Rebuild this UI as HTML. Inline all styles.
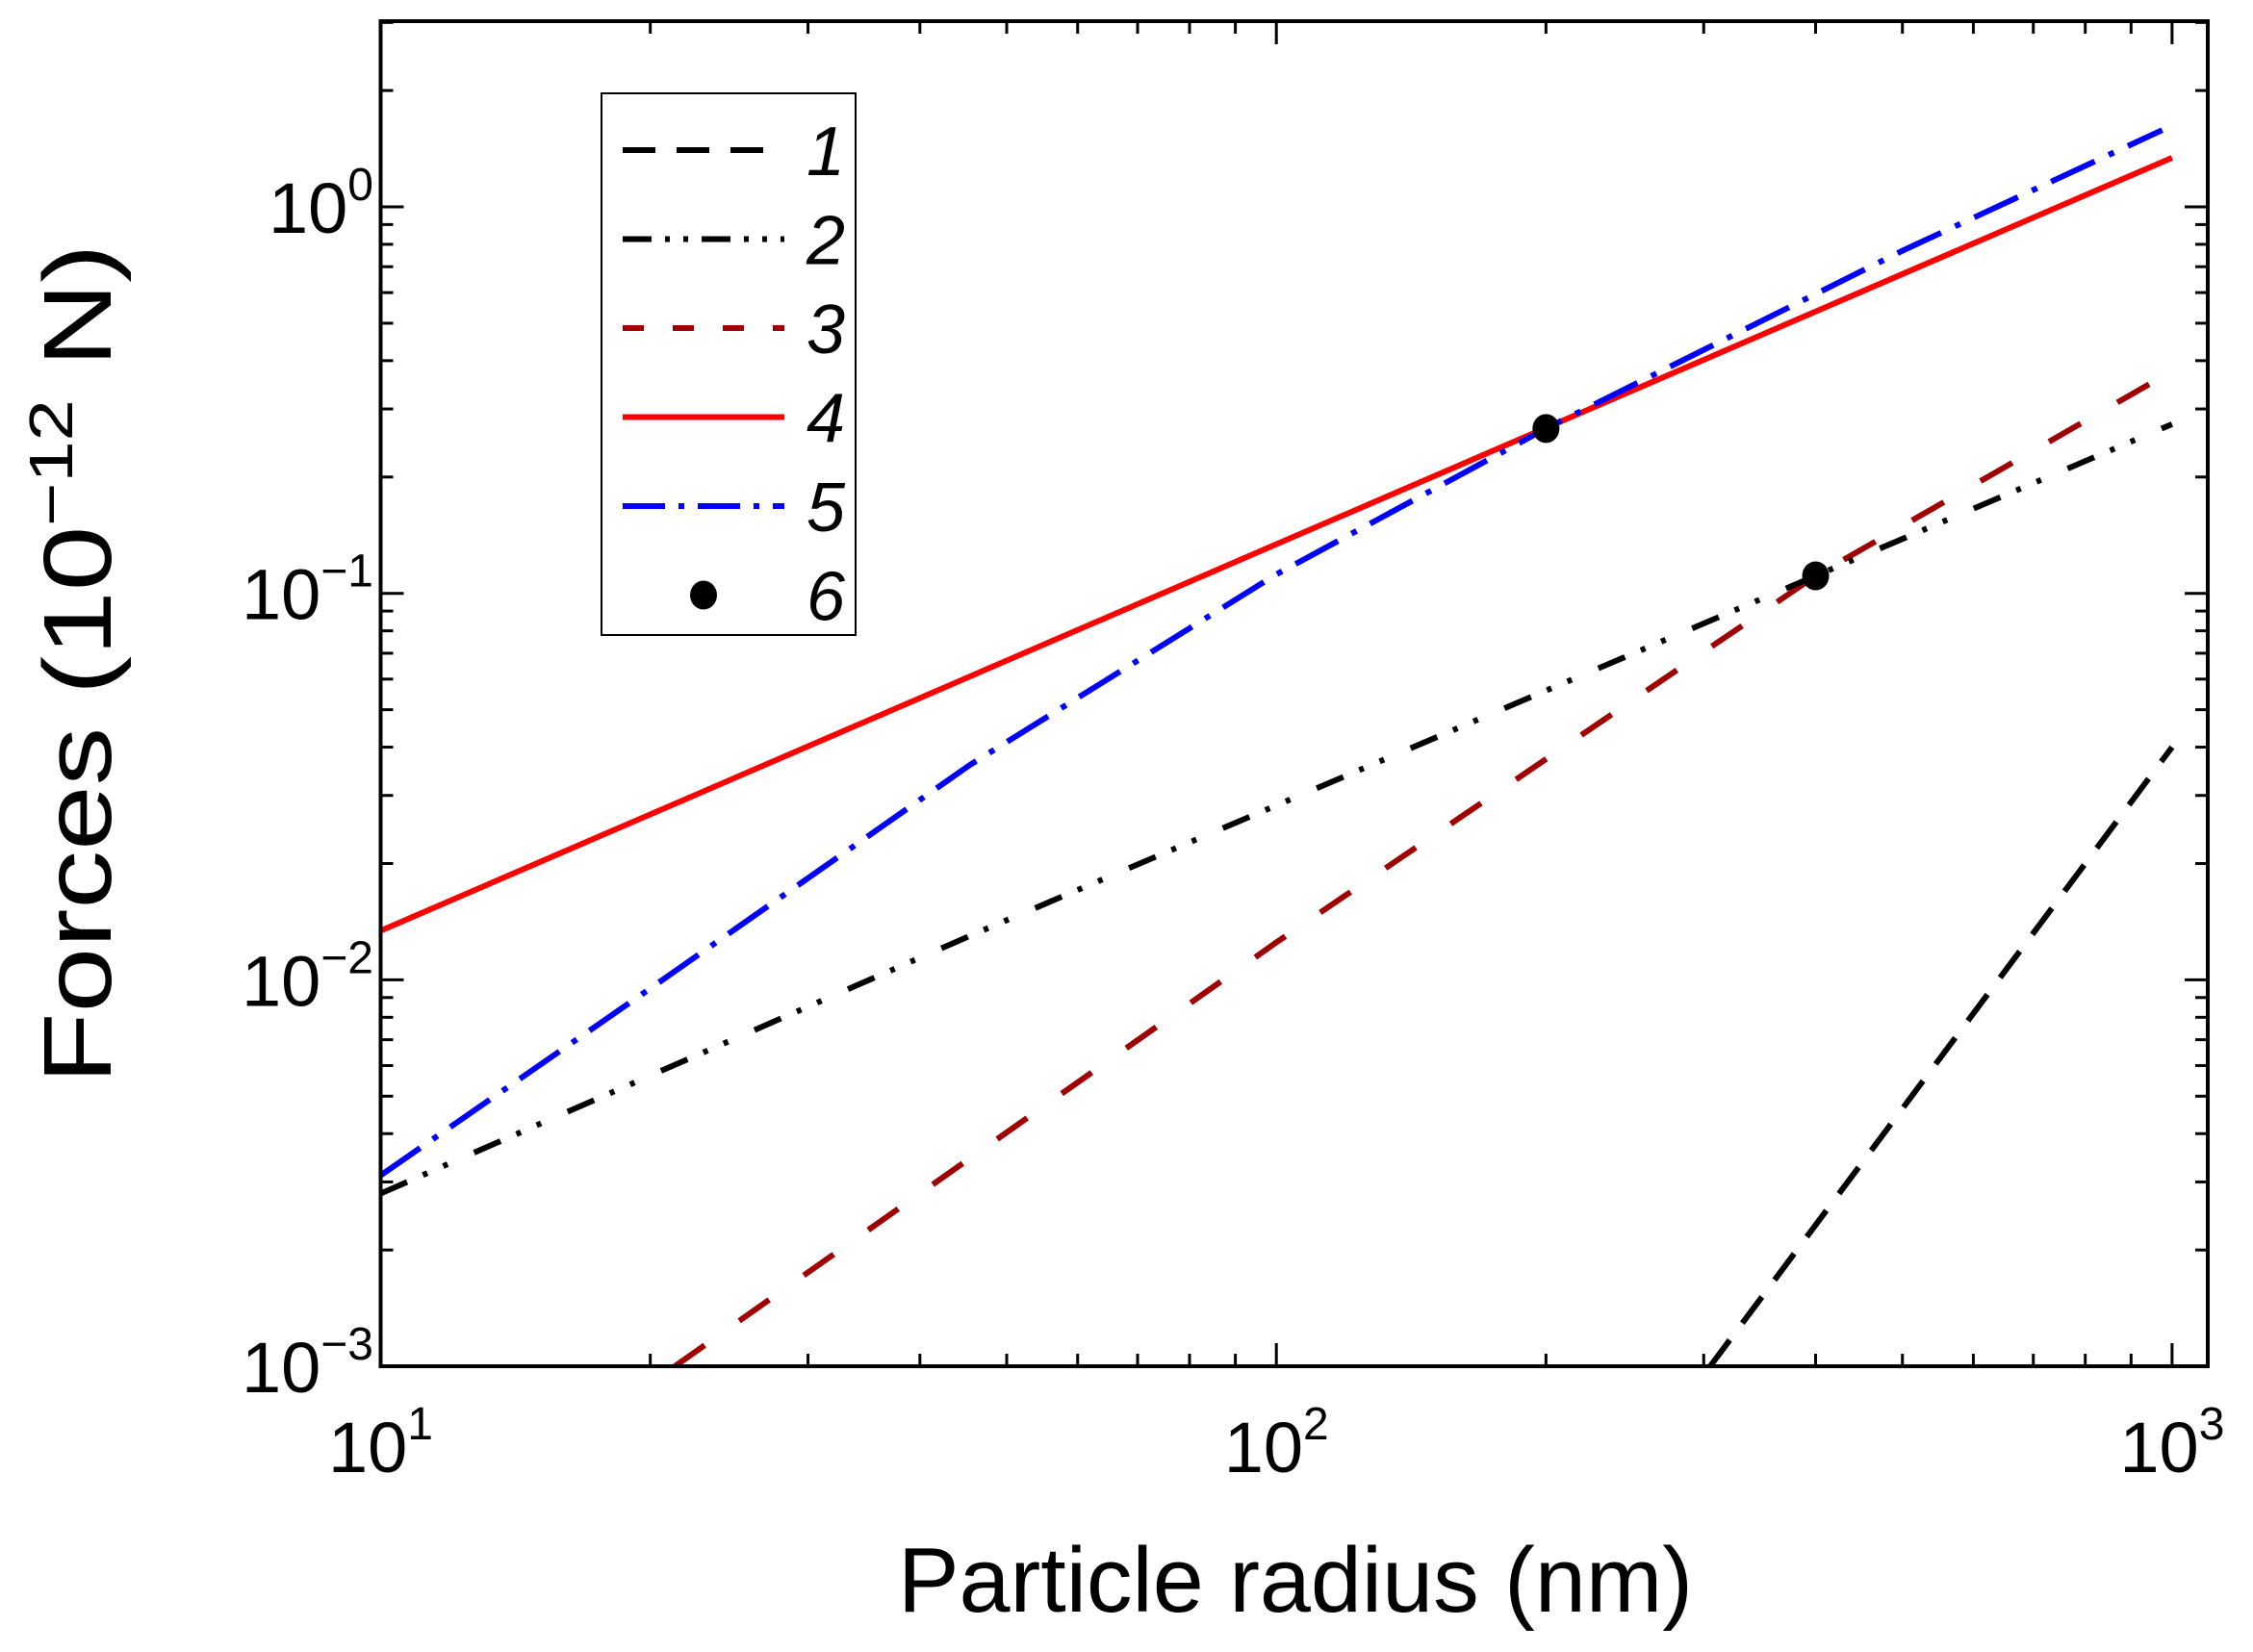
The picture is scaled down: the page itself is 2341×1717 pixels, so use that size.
<!DOCTYPE html>
<html><head><meta charset="utf-8"><style>
html,body{margin:0;padding:0;background:#fff}
svg{display:block}
text{font-family:"Liberation Sans",sans-serif}
</style></head><body>
<svg id="chart" width="2341" height="1717" viewBox="0 0 2341 1717" xmlns="http://www.w3.org/2000/svg">
<g id="plot"></g>
</svg>
<script>
// data arrays
const xTickExps = [1, 2, 3];
const yTickExps = [-3, -2, -1, 0];
const s1R = [305, 1000];
const s1F = [0.001, 0.040];
const s2R = [10, 45.5, 400, 1000];
const s2F = [0.0028, 0.013, 0.111, 0.274];
const s3R = [21.3, 100, 400, 1000];
const s3F = [0.001, 0.0125, 0.111, 0.376];
const s4R = [10, 1000];
const s4F = [0.0134, 1.34];
const s5R = [10, 20, 45.5, 100, 200, 500, 975];
const s5F = [0.00312, 0.0095, 0.036, 0.112, 0.267, 0.77, 1.58];
const dotR = [200, 400];
const dotF = [0.267, 0.111];
const legendLabels = ['1','2','3','4','5','6'];

const NS = 'http://www.w3.org/2000/svg';
const L = 395.5, R = 2294, T = 22, B = 1420;
function xs(r){ return 395.5 + (Math.log10(r) - 1) * 930.7; }
function ys(f){ return 215 - Math.log10(f) * 401.7; }
const g = document.getElementById('plot');
function mk(tag, attrs, parent){
  const e = document.createElementNS(NS, tag);
  for (const k in attrs) e.setAttribute(k, attrs[k]);
  (parent || g).appendChild(e);
  return e;
}
const defs = mk('defs', {});
const cp = mk('clipPath', {id:'clip'}, defs);
mk('rect', {x:L, y:T, width:R-L, height:B-T}, cp);

// ticks
const tg = mk('g', {stroke:'#000','stroke-width':3});


for (let d = 1; d <= 3; d++) {
  for (let m = 1; m <= 9; m++) {
    const v = m * Math.pow(10, d);
    const x = xs(v);
    if (x < L - 1 || x > R + 1) continue;
    const len = m === 1 ? 24 : 13;
    mk('line', {x1:x, y1:B, x2:x, y2:B-len}, tg);
    mk('line', {x1:x, y1:T, x2:x, y2:T+len}, tg);
  }
}
for (let d = -3; d <= 0; d++) {
  for (let m = 1; m <= 9; m++) {
    const v = m * Math.pow(10, d);
    const y = ys(v);
    if (y < T - 1 || y > B + 1) continue;
    const len = m === 1 ? 24 : 13;
    mk('line', {x1:L, y1:y, x2:L+len, y2:y}, tg);
    mk('line', {x1:R, y1:y, x2:R-len, y2:y}, tg);
  }
}

// series
const lg = mk('g', {'clip-path':'url(#clip)', fill:'none', 'stroke-width':6});
function series(rs, fs, stroke, dash, name){
  const p = mk('polyline', {points: rs.map((r,i)=>xs(r)+','+ys(fs[i])).join(' '), stroke:stroke, 'stroke-dasharray':dash, 'stroke-linejoin':'round'}, lg);
  
  
}
series(s1R, s1F, '#000', '34 22', 'series-1-line');
series(s3R, s3F, '#a00000', '38 44', 'series-3-line');
series(s2R, s2F, '#000', '30 18 5 18 5 30', 'series-2-line');
series(s4R, s4F, '#ff0000', 'none', 'series-4-line');
series(s5R, s5F, '#0000ff', '50 16 6 16', 'series-5-line');
dotR.forEach((r,i)=>{
  const c = mk('ellipse', {cx:xs(r), cy:ys(dotF[i]), rx:14, ry:15, fill:'#000'});
  
  
});

// frame
const fr = mk('rect', {x:L, y:T, width:R-L, height:B-T, fill:'none', stroke:'#000', 'stroke-width':4});



// tick labels
xTickExps.forEach(e=>{
  const t = mk('text', {x:xs(Math.pow(10,e)), y:1530, 'font-size':74, 'text-anchor':'middle'});
  
  
  t.innerHTML = '10<tspan font-size="48" dy="-34">' + e + '</tspan>';
});
yTickExps.forEach(e=>{
  const t = mk('text', {x:388, y:ys(Math.pow(10,e))+27, 'font-size':74, 'text-anchor':'end'});
  
  
  t.innerHTML = '10<tspan font-size="48" dy="-34">' + (e < 0 ? '\u2212' + (-e) : e) + '</tspan>';
});

// axis titles
const xt = mk('text', {x:1346, y:1675, 'font-size':96, 'text-anchor':'middle', textLength:826, lengthAdjust:'spacingAndGlyphs'});


xt.textContent = 'Particle radius (nm)';
const yt = mk('text', {x:0, y:0, 'font-size':100, 'text-anchor':'middle', textLength:873, lengthAdjust:'spacingAndGlyphs', transform:'translate(115,690) rotate(-90)'});


yt.innerHTML = 'Forces (10<tspan font-size="64" dy="-40">\u221212</tspan><tspan dy="40"> N)</tspan>';

// legend
const leg = mk('g', {});


mk('rect', {x:625, y:97, width:264, height:563, fill:'#fff', stroke:'#000', 'stroke-width':2}, leg);
const styles = [
  ['#000','34 22'],['#000','30 14 5 14 5 14'],['#a00000','22 30'],['#ff0000','none'],['#0000ff','44 14 6 14'],null
];
legendLabels.forEach((lab,i)=>{
  const y = 156 + i*92.5;
  const eg = mk('g', {}, leg);
  
  
  if (styles[i]) {
    mk('line', {x1:647, y1:y, x2:815, y2:y, stroke:styles[i][0], 'stroke-width':6, 'stroke-dasharray':styles[i][1]}, eg);
  } else {
    mk('ellipse', {cx:731, cy:y, rx:14, ry:15, fill:'#000'}, eg);
  }
  const t = mk('text', {x:858, y:y+26, 'font-size':72, 'font-style':'italic', 'text-anchor':'middle'}, eg);
  t.textContent = lab;
});
</script>
</body></html>
